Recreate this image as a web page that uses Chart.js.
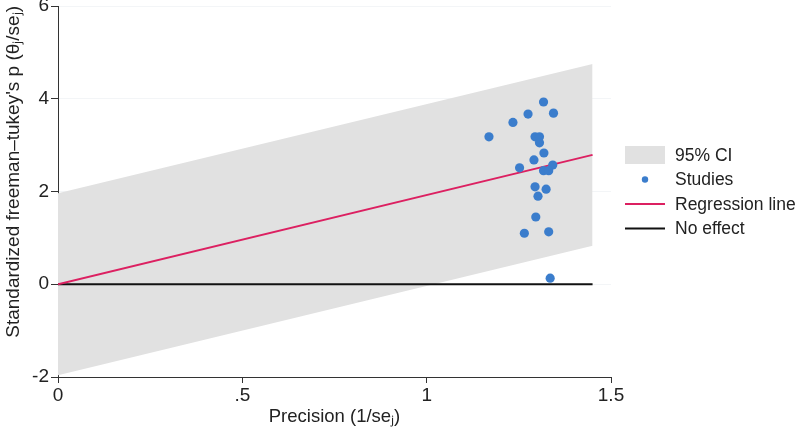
<!DOCTYPE html>
<html>
<head>
<meta charset="utf-8">
<script src="https://cdn.jsdelivr.net/npm/chart.js@4/dist/chart.umd.min.js"></script>
<style>
  html, body { margin: 0; padding: 0; background: #fff; }
  #grafico { display: block; }
</style>
</head>
<body>
<canvas id="grafico" width="800" height="434"></canvas>
<script>
// studies: precision (1/se) and standardized effect (theta/se)
const precision    = [1.317, 1.275, 1.344, 1.234, 1.169, 1.294, 1.306, 1.306, 1.318, 1.291, 1.252,
                      1.342, 1.317, 1.331, 1.294, 1.324, 1.302, 1.296, 1.265, 1.331, 1.335];
const standardized = [3.93, 3.67, 3.69, 3.49, 3.18, 3.18, 3.18, 3.05, 2.83, 2.68, 2.51,
                      2.57, 2.45, 2.45, 2.10, 2.05, 1.90, 1.45, 1.10, 1.13, 0.13];

// line ends (x = 0 and max precision)
const lineX      = [0, 1.45];
const regression = [0, 2.79];
const ciLower    = [-1.96, 0.83];
const ciUpper    = [1.96, 4.75];
const noEffect   = [0, 0];

const xTicks = [0, 0.5, 1, 1.5];
const xTickLabels = ['0', '.5', '1', '1.5'];
const yTicks = [-2, 0, 2, 4, 6];

const legendLabels = ['95% CI', 'Studies', 'Regression line', 'No effect'];

const gris = '#e1e1e1';
const azul = '#3b7dcc';
const rojo = '#dc2061';
const negro = '#111111';
const fuente = '"Liberation Sans", Arial, sans-serif';

(function () {
    const pares = (xs, ys) => xs.map((x, i) => ({ x: x, y: ys[i] }));

    const leyenda = {
        id: 'leyenda',
        afterDraw(chart) {
            const ctx = chart.ctx;
            const x0 = chart.chartArea.right + 14;
            const paso = 24.5;
            let y = 155;
            ctx.save();
            ctx.font = '17.5px ' + fuente;
            ctx.textBaseline = 'middle';
            legendLabels.forEach((texto, i) => {
                if (i === 0) {
                    ctx.fillStyle = gris;
                    ctx.fillRect(x0, y - 9, 40, 18);
                } else if (i === 1) {
                    ctx.fillStyle = azul;
                    ctx.beginPath();
                    ctx.arc(x0 + 20, y, 3.2, 0, Math.PI * 2);
                    ctx.fill();
                } else {
                    ctx.strokeStyle = i === 2 ? rojo : negro;
                    ctx.lineWidth = 2;
                    ctx.beginPath();
                    ctx.moveTo(x0, y);
                    ctx.lineTo(x0 + 40, y);
                    ctx.stroke();
                }
                ctx.fillStyle = '#222';
                ctx.fillText(texto, x0 + 50, y + 1);
                y += paso;
            });
            ctx.restore();
        }
    };

    const ctx = document.querySelector('#grafico').getContext('2d');
    const myChart = new Chart(ctx, {
        type: 'scatter',
        data: {
            datasets: [
                {
                    label: 'Studies',
                    data: pares(precision, standardized),
                    backgroundColor: azul,
                    borderColor: azul,
                    pointRadius: 4.6,
                    pointHoverRadius: 4.6,
                    borderWidth: 0
                },
                {
                    label: 'Regression line',
                    data: pares(lineX, regression),
                    showLine: true,
                    borderColor: rojo,
                    borderWidth: 2,
                    pointRadius: 0
                },
                {
                    label: 'No effect',
                    data: pares(lineX, noEffect),
                    showLine: true,
                    borderColor: negro,
                    borderWidth: 2,
                    pointRadius: 0
                },
                {
                    label: '95% CI',
                    data: pares(lineX, ciUpper),
                    showLine: true,
                    borderColor: 'rgba(0,0,0,0)',
                    borderWidth: 0,
                    pointRadius: 0,
                    backgroundColor: gris,
                    fill: '+1'
                },
                {
                    label: 'ci-lower',
                    data: pares(lineX, ciLower),
                    showLine: true,
                    borderColor: 'rgba(0,0,0,0)',
                    borderWidth: 0,
                    pointRadius: 0
                }
            ]
        },
        options: {
            responsive: false,
            animation: false,
            devicePixelRatio: 1,
            layout: { padding: { top: 6, right: 189, left: 0, bottom: 0 } },
            scales: {
                x: {
                    type: 'linear',
                    min: 0,
                    max: 1.5,
                    afterBuildTicks: s => { s.ticks = xTicks.map(v => ({ value: v })); },
                    afterFit: s => { s.height = 57; s.paddingLeft = 0; s.paddingRight = 0; },
                    ticks: {
                        callback: (v) => xTickLabels[xTicks.indexOf(v)],
                        color: '#222',
                        font: { family: fuente, size: 19 },
                        padding: 1,
                        maxRotation: 0
                    },
                    grid: { drawOnChartArea: false, tickLength: 6, tickColor: '#333' },
                    border: { color: '#333', width: 1 },
                    title: {
                        display: true,
                        text: 'Precision (1/seⱼ)',
                        color: '#222',
                        font: { family: fuente, size: 18.5 },
                        padding: { top: 2, bottom: 6 }
                    }
                },
                y: {
                    type: 'linear',
                    min: -2,
                    max: 6,
                    afterBuildTicks: s => { s.ticks = yTicks.map(v => ({ value: v })); },
                    afterFit: s => { s.width = 58; s.paddingTop = 0; s.paddingBottom = 0; },
                    ticks: {
                        color: '#222',
                        font: { family: fuente, size: 19 },
                        padding: 2
                    },
                    grid: { color: '#f3f5f7', tickLength: 7, tickColor: '#333' },
                    border: { color: '#333', width: 1 },
                    title: {
                        display: true,
                        text: "Standardized freeman–tukey's p (θⱼ/seⱼ)",
                        color: '#222',
                        align: 'end',
                        font: { family: fuente, size: 19 },
                        padding: { top: 2, bottom: 0 }
                    }
                }
            },
            plugins: {
                legend: { display: false },
                tooltip: { enabled: false }
            }
        },
        plugins: [leyenda]
    });
})();
</script>
</body>
</html>
